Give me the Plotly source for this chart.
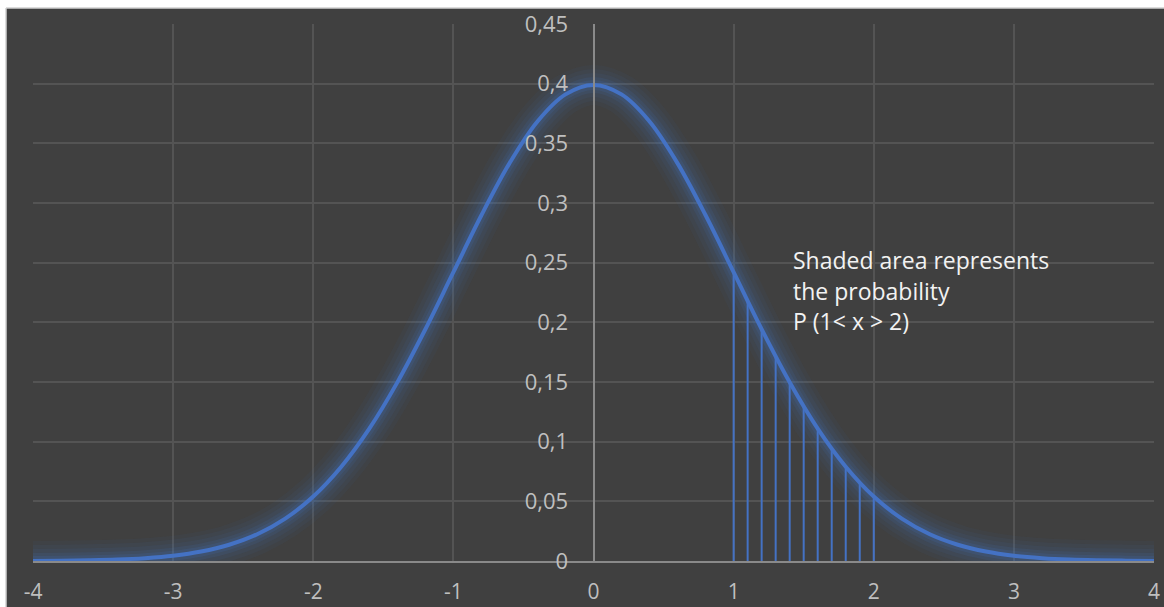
import plotly.graph_objects as go

# Standard normal curve values
curve_x = [-4.0, -3.8, -3.6, -3.4, -3.2, -3.0, -2.8, -2.6, -2.4, -2.2, -2.0,
           -1.8, -1.6, -1.4, -1.2, -1.0, -0.8, -0.6, -0.4, -0.2, 0.0,
           0.2, 0.4, 0.6, 0.8, 1.0, 1.2, 1.4, 1.6, 1.8, 2.0,
           2.2, 2.4, 2.6, 2.8, 3.0, 3.2, 3.4, 3.6, 3.8, 4.0]
curve_y = [0.0001, 0.0003, 0.0006, 0.0012, 0.0024, 0.0044, 0.0079, 0.0136, 0.0224, 0.0355, 0.0540,
           0.0790, 0.1109, 0.1497, 0.1942, 0.2420, 0.2897, 0.3332, 0.3683, 0.3910, 0.3989,
           0.3910, 0.3683, 0.3332, 0.2897, 0.2420, 0.1942, 0.1497, 0.1109, 0.0790, 0.0540,
           0.0355, 0.0224, 0.0136, 0.0079, 0.0044, 0.0024, 0.0012, 0.0006, 0.0003, 0.0001]

# Vertical hatch lines in the shaded region
shade_x = [1.0, 1.1, 1.2, 1.3, 1.4, 1.5, 1.6, 1.7, 1.8, 1.9, 2.0]
shade_y = [0.2420, 0.2179, 0.1942, 0.1714, 0.1497, 0.1295, 0.1109, 0.0940, 0.0790, 0.0656, 0.0540]

x_ticks = [-4, -3, -2, -1, 0, 1, 2, 3, 4]
x_tick_labels = ["-4", "-3", "-2", "-1", "0", "1", "2", "3", "4"]

note_lines = ["Shaded area represents", "the probability", "P (1< x > 2)"]
note_y = [0.2522, 0.2262, 0.2010]
note_x = 1.41

BLUE = "#4472C4"
BG = "#404040"
GRID = "#545454"
AXIS = "#8a8a8a"
TXT = "#bfbfbf"
FONT = "Open Sans"

fig = go.Figure()

# glow layers
for w, a in [(40, 0.05), (32, 0.06), (24, 0.08), (16, 0.11), (10, 0.15)]:
    fig.add_trace(go.Scatter(x=curve_x, y=curve_y, mode="lines",
                             line=dict(color=f"rgba(68,114,196,{a})", width=w, shape="spline"),
                             hoverinfo="skip", showlegend=False))

# hatch lines
hx, hy = [], []
for xv, yv in zip(shade_x, shade_y):
    hx += [xv, xv, None]
    hy += [0, yv, None]
fig.add_trace(go.Scatter(x=hx, y=hy, mode="lines", line=dict(color=BLUE, width=2),
                         showlegend=False, hoverinfo="skip"))

# main curve
fig.add_trace(go.Scatter(x=curve_x, y=curve_y, mode="lines",
                         line=dict(color=BLUE, width=4, shape="spline"), showlegend=False))

for txt, yv in zip(note_lines, note_y):
    fig.add_annotation(x=note_x, y=yv, text=txt, showarrow=False, xanchor="left", yanchor="middle",
                       font=dict(family=FONT, size=23, color="#f2f2f2"))

L, R, T, B = 33, 10, 24, 46
W, H = 1164, 607
pw, ph = W - L - R, H - T - B

# white frame strips on the left and top edges of the picture
fig.add_shape(type="rect", xref="paper", yref="paper",
              x0=-L / pw, x1=(6 - L) / pw, y0=-B / ph, y1=1 + T / ph,
              fillcolor="white", line_width=0, layer="above")
fig.add_shape(type="rect", xref="paper", yref="paper",
              x0=-L / pw, x1=1 + R / pw, y0=1 + (T - 8) / ph, y1=1 + T / ph,
              fillcolor="white", line_width=0, layer="above")
fig.add_shape(type="line", xref="paper", yref="paper",
              x0=(6 - L) / pw, x1=1 + R / pw, y0=1 + (T - 8) / ph, y1=1 + (T - 8) / ph,
              line=dict(color="#d0d0d0", width=1.5), layer="above")
fig.add_shape(type="line", xref="paper", yref="paper",
              x0=(6 - L) / pw, x1=(6 - L) / pw, y0=-B / ph, y1=1 + (T - 8) / ph,
              line=dict(color="#d0d0d0", width=1.5), layer="above")

fig.update_layout(
    width=W, height=H,
    margin=dict(l=L, r=R, t=T, b=B, pad=0),
    paper_bgcolor=BG, plot_bgcolor=BG,
    separators=", ",
    showlegend=False,
    xaxis=dict(range=[-4, 4], tickvals=x_ticks, ticktext=x_tick_labels,
               showgrid=True, gridcolor=GRID, gridwidth=1.5, zeroline=False,
               showline=True, linecolor=AXIS, linewidth=2, ticks="", automargin=False,
               tickfont=dict(family=FONT, size=21, color=TXT), ticklabelstandoff=11),
    yaxis=dict(range=[0, 0.45], dtick=0.05, anchor="free", position=0.5,
               showgrid=True, gridcolor=GRID, gridwidth=1.5, zeroline=False,
               showline=True, linecolor=AXIS, linewidth=2, ticks="", automargin=False,
               tickfont=dict(family=FONT, size=22, color=TXT), ticklabelstandoff=20),
)

fig.write_html("out.html")
